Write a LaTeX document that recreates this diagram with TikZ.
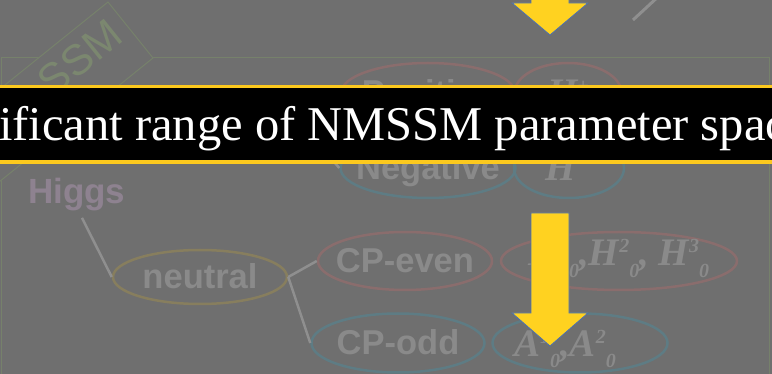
\documentclass[tikz,border=0pt]{standalone}
\usepackage{fontspec}
\setmainfont{Liberation Serif}
\setsansfont{Liberation Sans}
\usetikzlibrary{shapes.geometric}
\definecolor{bgc}{HTML}{6F6F6F}
\definecolor{redc}{HTML}{8A6D6D}
\definecolor{tealc}{HTML}{5E7C84}
\definecolor{yelc}{HTML}{877E5E}
\definecolor{txtc}{HTML}{8A8A8A}
\definecolor{higc}{HTML}{8E8290}
\definecolor{grnc}{HTML}{76816B}
\definecolor{grntxt}{HTML}{7B876F}
\definecolor{linc}{HTML}{8F8F8F}
\definecolor{arrowy}{HTML}{FFD220}
\definecolor{arrowb}{HTML}{4A6FB0}
\definecolor{bandy}{HTML}{FCC91E}
\newcommand\supsub[2]{\raisebox{13pt}{\fontsize{20}{20}\selectfont #1}\raisebox{-12pt}{\fontsize{20}{20}\selectfont #2}}
\newcommand\supr[1]{\raisebox{13pt}{\fontsize{20}{20}\selectfont #1}}
\tikzset{
  ell/.style={ellipse, draw, line width=2.5pt, inner sep=0pt},
  sflbl/.style={inner sep=0pt, text=txtc, font=\sffamily\bfseries\fontsize{34.5}{36}\selectfont, text height=24pt, text depth=0pt},
  itlbl/.style={inner sep=0pt, text=txtc, font=\bfseries\itshape\fontsize{39}{40}\selectfont, text height=26pt, text depth=0pt},
  conn/.style={draw=linc, line width=2.5pt},
  bigarrow/.style={fill=arrowy, draw=arrowb, line width=0.8pt},
}
\begin{document}
\begin{tikzpicture}[x=1pt,y=-1pt]
\useasboundingbox (0,0) rectangle (772,374);
\fill[bgc] (0,0) rectangle (772,374);
\clip (0,0) rectangle (772,374);

% frame
\draw[grnc, line width=1pt] (1,58) rectangle (769,400);
% rotated tag box (drawn directly)
\draw[grnc, fill=bgc, line width=1pt] (108,2) -- (153,58) -- (-18,195.7) -- (-63,139.7) -- cycle;
\node[rotate=38.8, inner sep=0pt, text=grntxt, font=\sffamily\fontsize{43}{44}\selectfont] (tagtext) at (80,58) {SSM};

% Higgs
\node[anchor=base west, inner sep=0pt, text=higc, font=\sffamily\bfseries\fontsize{35}{36}\selectfont] (higgs) at (28,204) {Higgs};

% ellipses
\node[ell, draw=yelc, minimum width=174pt, minimum height=54pt, label={[sflbl]center:neutral}] (neutral) at (200,277) {};
\node[ell, draw=redc, minimum width=174pt, minimum height=58pt, label={[sflbl]center:CP-even}] (cpeven) at (405,261) {};
\node[ell, draw=tealc, minimum width=173pt, minimum height=59pt, label={[sflbl]center:CP-odd}] (cpodd) at (398,343) {};
\node[ell, draw=redc, minimum width=236pt, minimum height=58pt,
  label={[itlbl, text depth=16pt]center:{H\supsub{1}{0},H\supsub{2}{0}, H\supsub{3}{0}}}] (hlist) at (619,261) {};
\node[ell, draw=tealc, minimum width=175pt, minimum height=59pt,
  label={[itlbl]center:{A\supsub{1}{0},A\supsub{2}{0}\hspace*{30pt}}}] (alist) at (580,343) {};

\node[ell, draw=redc, minimum width=174pt, minimum height=60pt, label={[sflbl]center:Positive}] (pos) at (428,93) {};
\node[ell, draw=redc, minimum width=107pt, minimum height=60pt, label={[itlbl]center:{H\supr{+}}}] (hplus) at (568,93) {};
\node[ell, draw=tealc, minimum width=175pt, minimum height=60pt, label={[sflbl]center:Negative}] (neg) at (428,168) {};
\node[ell, draw=tealc, minimum width=110pt, minimum height=60pt, label={[itlbl]center:{H\supr{$-$}}}] (hminus) at (569,168) {};

% connectors
\draw[conn, shorten <=7pt] (higgs.south) ++(2,0) coordinate (hs) -- (neutral.west);
\draw[conn] (neutral.east) -- (cpeven.west);
\draw[conn] (neutral.east) -- (cpodd.west);
\coordinate (chg) at (305,128);
\draw[conn] (chg) -- (pos.west);
\draw[conn] (chg) -- (neg.west);
\coordinate (tl1) at (633,20);
\coordinate (tl2) at (660,-5);
\draw[conn, line width=3pt] (tl1) -- (tl2);

% arrows
\draw[bigarrow] (531,-20) -- (569,-20) -- (569,3) -- (588,3) -- (550,35) -- (512,3) -- (531,3) -- cycle;
\draw[bigarrow] (531,213) -- (569,213) -- (569,313) -- (588,313) -- (550,346) -- (512,313) -- (531,313) -- cycle;

% banner
\fill[bandy] (0,85) rectangle (772,164);
\fill[black] (0,88.5) rectangle (772,160.5);
\node[anchor=base west, inner sep=0pt, text=white, font=\fontsize{48.5}{50}\selectfont] (title) at (-1,141) {ificant range of NMSSM parameter spac};
\end{tikzpicture}
\end{document}
